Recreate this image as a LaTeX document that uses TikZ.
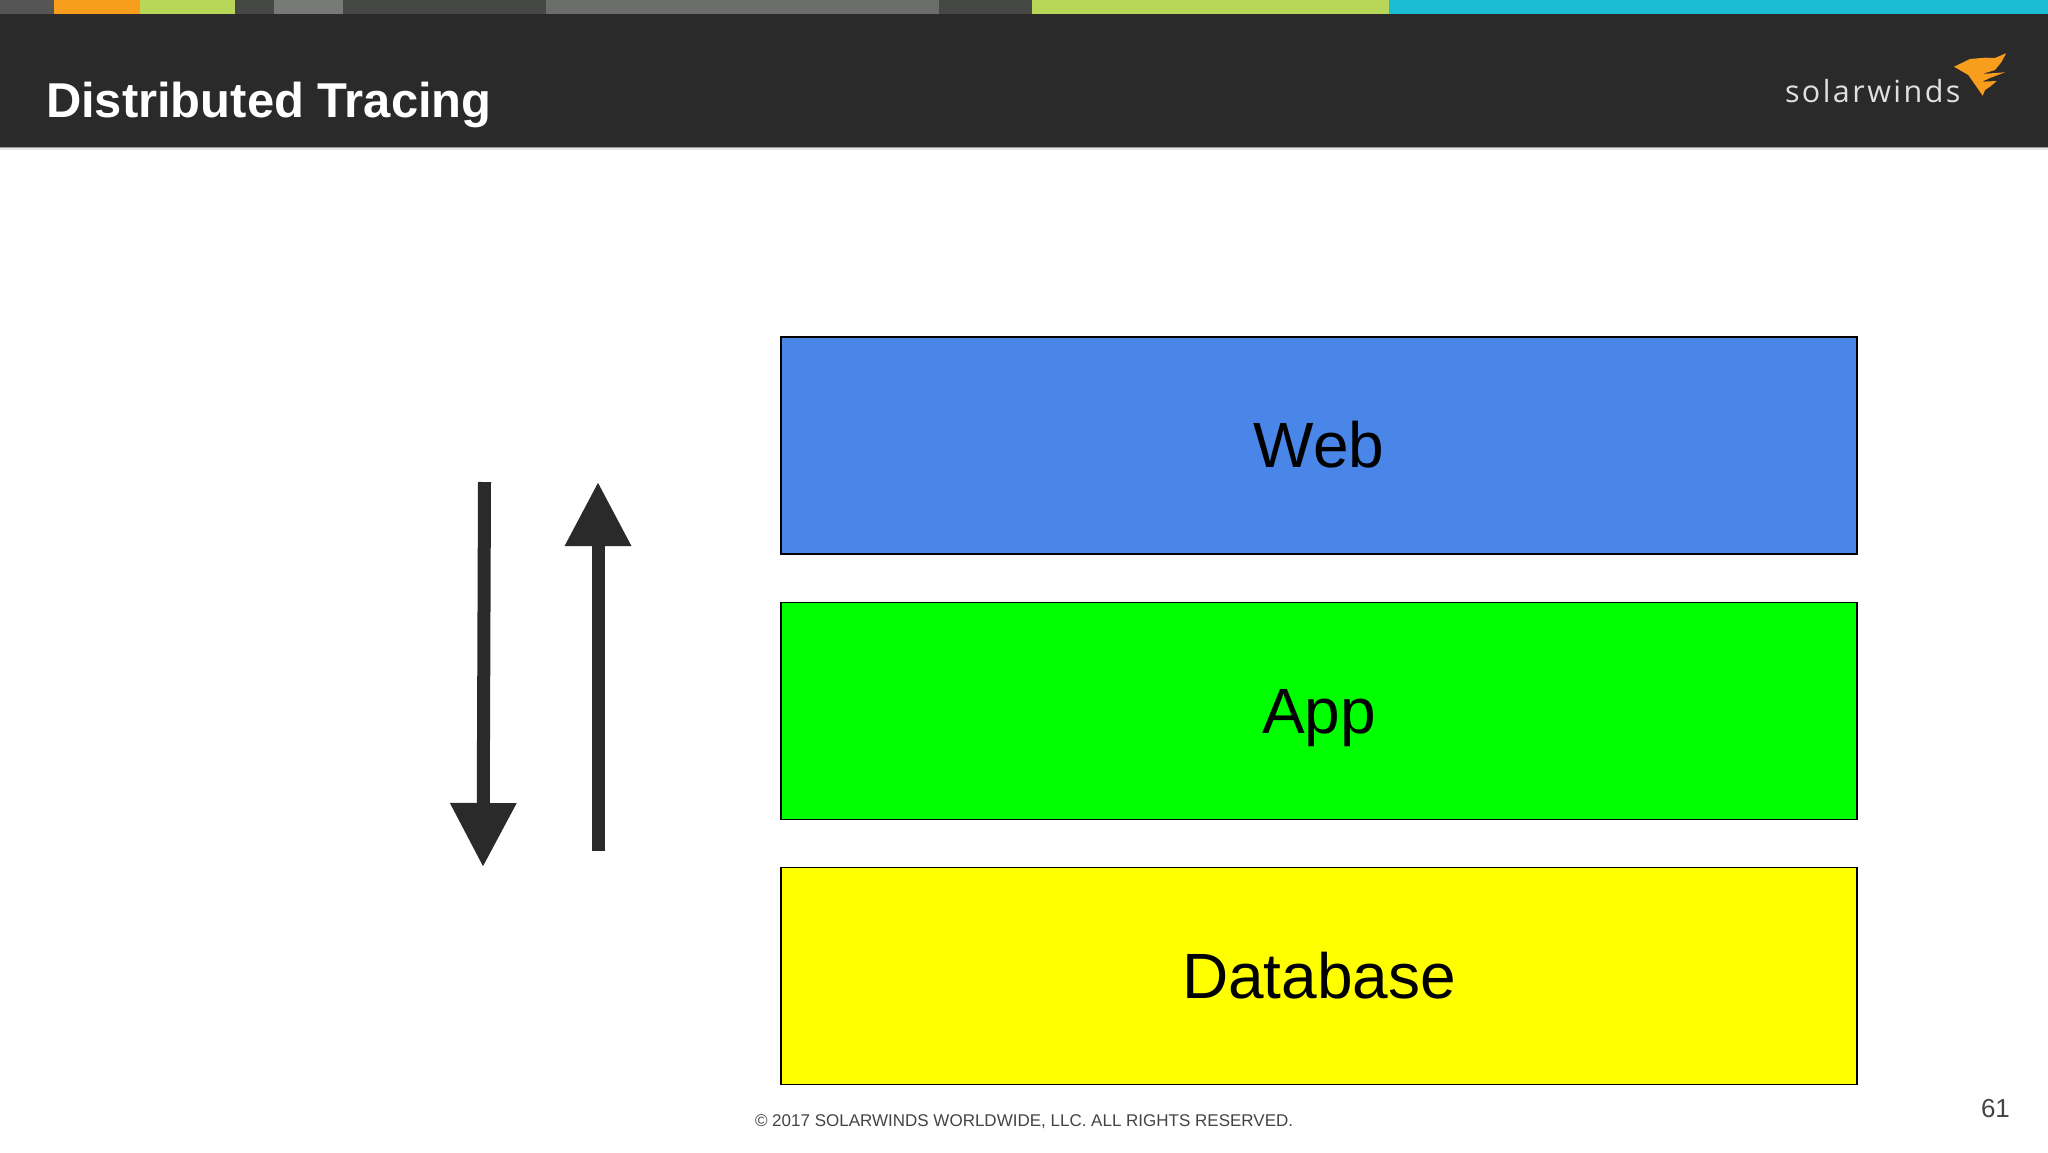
\documentclass[tikz,border=0pt]{standalone}
\usepackage{fontspec}
\setmainfont{Liberation Sans}
\newfontfamily\logofont[LetterSpace=8]{Open Sans}
\usetikzlibrary{arrows.meta}
\definecolor{headerdark}{HTML}{2B2A2B}
\definecolor{stripedark}{HTML}{454845}
\definecolor{stripegray}{HTML}{6A6D69}
\definecolor{stripelight}{HTML}{777977}
\definecolor{stripeedge}{HTML}{555555}
\definecolor{swgreen}{HTML}{B8D658}
\definecolor{sworange}{HTML}{F99D1C}
\definecolor{swcyan}{HTML}{1BBDD4}
\definecolor{webblue}{HTML}{4A86E8}
\definecolor{appgreen}{HTML}{00FF00}
\definecolor{dbyellow}{HTML}{FFFF00}
\definecolor{footgray}{HTML}{444444}
\tikzset{
  tier/.style={draw=black,line width=1.2pt,minimum width=1076pt,minimum height=217pt,
    inner sep=0,outer sep=0,text height=44pt,text depth=0pt,text=black,
    font=\fontsize{64}{70}\selectfont},
  flow/.style={draw=headerdark,line width=13pt,
    -{Triangle[length=64pt,width=63pt,fill=headerdark]}},
  textline/.style={inner sep=0,outer sep=0,anchor=base west},
}

\begin{document}
\begin{tikzpicture}[x=1pt, y=-1pt]
    \useasboundingbox (0,0) rectangle (2048,1152);

    % coordinates to be reused
    \coordinate (Dstart) at (484.5,482);
    \coordinate (Dend) at (483,867);
    \coordinate (Ustart) at (598,851);
    \coordinate (Uend) at (598,482);

    % header band
    \fill [white] (0,0) rectangle (2048,1152);
    \fill [headerdark] (0,0) rectangle (2048,146.5);
    \fill [gray!80] (0,146.5) rectangle (2048,148);
    \fill [gray!20] (0,148) rectangle (2048,150);
    \fill [stripeedge] (0,0) rectangle (54,13.5);
    \fill [sworange] (54,0) rectangle (140,13.5);
    \fill [swgreen] (140,0) rectangle (235,13.5);
    \fill [stripedark] (235,0) rectangle (274,13.5);
    \fill [stripelight] (274,0) rectangle (343,13.5);
    \fill [stripedark] (343,0) rectangle (546,13.5);
    \fill [stripegray] (546,0) rectangle (939,13.5);
    \fill [stripedark] (939,0) rectangle (1032,13.5);
    \fill [swgreen] (1032,0) rectangle (1389,13.5);
    \fill [swcyan] (1389,0) rectangle (2048,13.5);
    \node [textline,text=white,font=\fontsize{48.9}{54}\selectfont\bfseries] (title) at (46,117) {Distributed Tracing};

    % logo
    \node [textline,text=black!12,font=\fontsize{30.5}{34}\selectfont\logofont] (logo) at (1785,102) {solarwinds};
    \fill [sworange] (1954,66.7) -- (1970,59) -- (1985,57.7) -- (1995,58) -- (2006,53.3)
      -- (2001.7,61.7) -- (1995,70) -- (1982,74) -- (2005,72.3) -- (1990,78) -- (1982,81.7)
      -- (1996.7,81) -- (1990,86.7) -- (1985,90) -- (1982.7,95.7) -- (1968.3,75) -- cycle;

    % tiers
    \node [tier,fill=webblue] (web) at (1319,445.5) {Web};
    \node [tier,fill=appgreen] (app) at (1319,711) {App};
    \node [tier,fill=dbyellow] (db) at (1319,976) {Database};

    % request and response
    \draw [flow] (Dstart) -- (Dend);
    \draw [flow] (Ustart) -- (Uend);

    % footer
    \node [textline,text=footgray,font=\fontsize{17}{22}\selectfont] (copy) at (755,1126) {© 2017 SOLARWINDS WORLDWIDE, LLC. ALL RIGHTS RESERVED.};
    \node [textline,text=footgray,font=\fontsize{26}{30}\selectfont] (page) at (1981,1117) {61};
\end{tikzpicture}
\end{document}
